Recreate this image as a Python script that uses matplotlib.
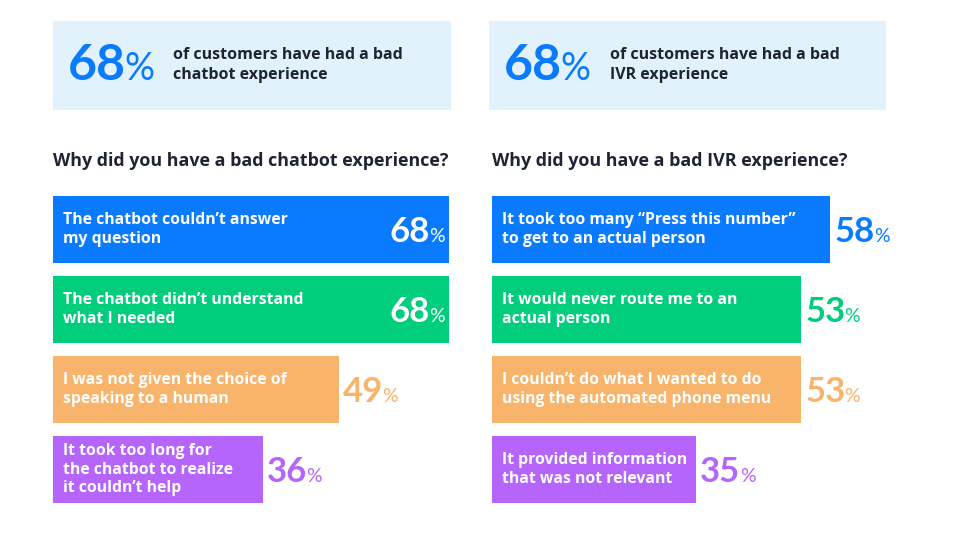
import matplotlib
matplotlib.use("Agg")
import matplotlib.pyplot as plt
from matplotlib.patches import Rectangle

plt.rcParams['font.family'] = ['Open Sans', 'DejaVu Sans']
num_font = ['Lato', 'DejaVu Sans']

# data
chatbot_reasons = [
    "The chatbot couldn\u2019t answer\nmy question",
    "The chatbot didn\u2019t understand\nwhat I needed",
    "I was not given the choice of\nspeaking to a human",
    "It took too long for\nthe chatbot to realize\nit couldn\u2019t help",
]
chatbot_values = [68, 68, 49, 36]

ivr_reasons = [
    "It took too many \u201cPress this number\u201d\nto get to an actual person",
    "It would never route me to an\nactual person",
    "I couldn\u2019t do what I wanted to do\nusing the automated phone menu",
    "It provided information\nthat was not relevant",
]
ivr_values = [58, 53, 53, 35]

headline_values = [68, 68]
headline_texts = ["of customers have had a bad\nchatbot experience",
                  "of customers have had a bad\nIVR experience"]
questions = ["Why did you have a bad chatbot experience?",
             "Why did you have a bad IVR experience?"]

bar_colors = ['#0A7BFF', '#00CE7C', '#F9B46B', '#B565FC']
header_bg = '#E1F2FD'
dark = '#1F2433'

W, H = 969, 534
fig = plt.figure(figsize=(W / 100, H / 100), dpi=100)


def px(x, y, w, h):
    return [x / W, 1 - (y + h) / H, w / W, h / H]


bg = fig.add_axes([0, 0, 1, 1])
bg.set_xlim(0, W)
bg.set_ylim(H, 0)
bg.axis('off')

# header boxes
for bx, bw, nx, tx, val, txt in [(53, 398, 68, 173, headline_values[0], headline_texts[0]),
                                 (489, 397, 504, 610, headline_values[1], headline_texts[1])]:
    bg.add_patch(Rectangle((bx, 21), bw, 89, color=header_bg, lw=0))
    num = bg.text(nx, 80, str(val), fontsize=36, fontweight='bold', family=num_font,
                  color=bar_colors[0], ha='left', va='baseline')
    bg.annotate('%', xy=(1, 80), xycoords=(num, 'data'), xytext=(-1, 0),
                textcoords='offset points', fontsize=27, color=bar_colors[0],
                family=num_font, ha='left', va='baseline')
    bg.text(tx, 65, txt, fontsize=11.5, fontweight='bold', color=dark,
            ha='left', va='center', linespacing=1.3)

bg.text(53, 161, questions[0], fontsize=12.9, fontweight='bold', color=dark, va='center')
bg.text(492, 161, questions[1], fontsize=12.9, fontweight='bold', color=dark, va='center')

px_per = 5.83
xmax = 75
half = 67 / 160


def panel(x0, labels, values):
    ax = fig.add_axes(px(x0, 196, xmax * px_per, 307))
    ax.set_xlim(0, xmax)
    ax.set_ylim(3 + half, -half)
    ax.axis('off')
    ys = range(len(values))
    ax.barh(ys, values, height=2 * half, color=bar_colors, lw=0)
    for i, (lab, v) in enumerate(zip(labels, values)):
        ax.annotate(lab, xy=(0, i), xytext=(7.2, 0), textcoords='offset points',
                    ha='left', va='center', color='white', fontsize=11.3,
                    fontweight='bold', linespacing=1.2)
        if v >= 60:
            pct = ax.annotate('%', xy=(v, i), xytext=(-3.6, -9), textcoords='offset points',
                              ha='right', va='baseline', color='white', fontsize=14,
                              family=num_font)
            ax.annotate(str(v), xy=(0, i), xycoords=(pct, 'data'), xytext=(0.5, -9),
                        textcoords='offset points', ha='right', va='baseline',
                        color='white', fontsize=25, fontweight='bold', family=num_font)
        else:
            num = ax.annotate(str(v), xy=(v, i), xytext=(3.0, -9), textcoords='offset points',
                              ha='left', va='baseline', color=bar_colors[i],
                              fontsize=25, fontweight='bold', family=num_font)
            ax.annotate('%', xy=(1, i), xycoords=(num, 'data'), xytext=(-0.5, -9),
                        textcoords='offset points', ha='left', va='baseline',
                        color=bar_colors[i], fontsize=14, family=num_font)


panel(53, chatbot_reasons, chatbot_values)
panel(492, ivr_reasons, ivr_values)

fig.savefig('out.png', dpi=100, facecolor='white')
